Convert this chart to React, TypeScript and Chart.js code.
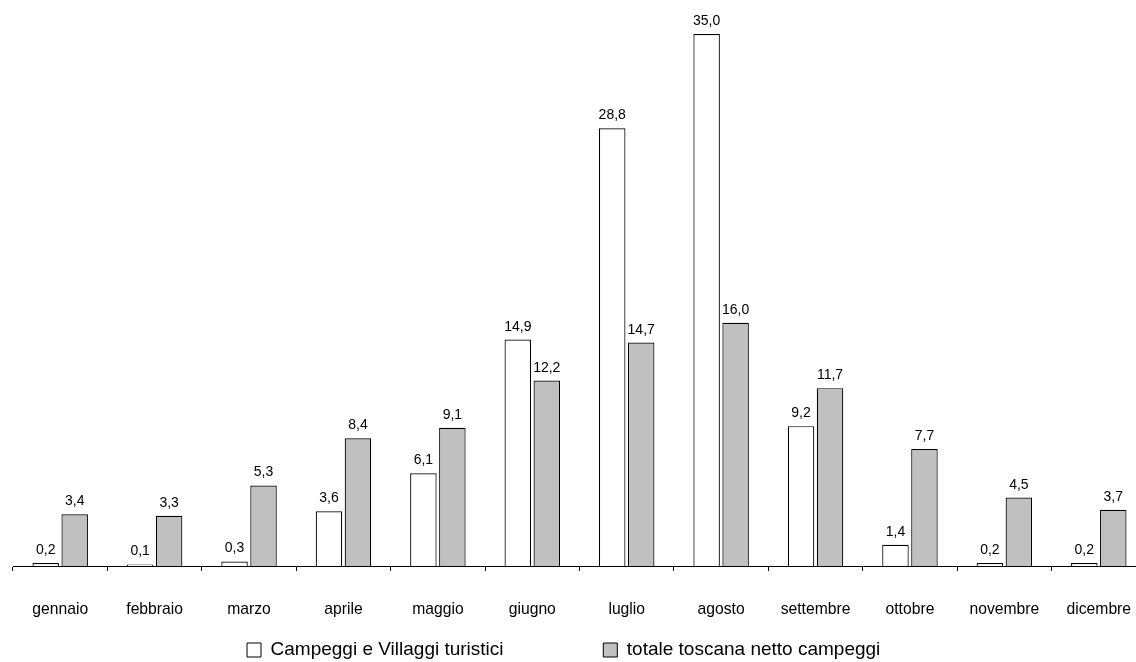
import React, { useEffect, useRef } from "react";
import { Chart, registerables } from "chart.js";

Chart.register(...registerables);

const months = [
  "gennaio", "febbraio", "marzo", "aprile", "maggio", "giugno",
  "luglio", "agosto", "settembre", "ottobre", "novembre", "dicembre",
];
const campeggi = [0.2, 0.1, 0.3, 3.6, 6.1, 14.9, 28.8, 35.0, 9.2, 1.4, 0.2, 0.2];
const toscana = [3.4, 3.3, 5.3, 8.4, 9.1, 12.2, 14.7, 16.0, 11.7, 7.7, 4.5, 3.7];
const seriesNames = ["Campeggi e Villaggi turistici", "totale toscana netto campeggi"];

const FONT = "'Liberation Sans', Arial, sans-serif";
const fmt = (v: number) => v.toFixed(1).replace(".", ",");

// Writes each bar's value just above its top
const valueLabels = {
  id: "valueLabels",
  afterDatasetsDraw(chart: any) {
    const ctx = chart.ctx;
    ctx.save();
    ctx.font = `14px ${FONT}`;
    ctx.fillStyle = "#000";
    ctx.textAlign = "center";
    ctx.textBaseline = "alphabetic";
    chart.data.datasets.forEach((ds: any, i: number) => {
      const meta = chart.getDatasetMeta(i);
      meta.data.forEach((bar: any, j: number) => {
        ctx.fillText(fmt(ds.data[j]), bar.x, bar.y - 9);
      });
    });
    ctx.restore();
  },
};

export default function App() {
  const ref = useRef<HTMLCanvasElement>(null);

  useEffect(() => {
    if (!ref.current) return;
    const chart = new Chart(ref.current, {
      type: "bar",
      data: {
        labels: months,
        datasets: [
          {
            label: seriesNames[0],
            data: campeggi,
            backgroundColor: "#ffffff",
            borderColor: "#000000",
            borderWidth: 1.2,
            categoryPercentage: 0.614,
            barPercentage: 0.914,
          },
          {
            label: seriesNames[1],
            data: toscana,
            backgroundColor: "#c0c0c0",
            borderColor: "#000000",
            borderWidth: 1.2,
            categoryPercentage: 0.614,
            barPercentage: 0.914,
          },
        ],
      },
      options: {
        responsive: false,
        animation: false,
        devicePixelRatio: 1,
        layout: { padding: { left: 13, right: 0, top: 3.6, bottom: -7.5 } },
        scales: {
          x: {
            grid: {
              display: true,
              drawOnChartArea: false,
              drawTicks: true,
              tickLength: 5,
              color: "#000",
              lineWidth: 1,
              offset: true,
            },
            border: { display: true, color: "#000", width: 1 },
            ticks: {
              color: "#000",
              font: { family: FONT, size: 15.7 },
              padding: 29.4,
              maxRotation: 0,
              autoSkip: false,
            },
            afterFit: (s: any) => {
              s.height = 64.5;
              s.paddingLeft = 0;
              s.paddingRight = 0;
            },
          },
          y: { display: false, min: 0, max: 37 },
        },
        plugins: {
          tooltip: { enabled: false },
          legend: {
            position: "bottom",
            labels: {
              color: "#000",
              font: { family: FONT, size: 19 },
              boxWidth: 14,
              boxHeight: 14,
              padding: 10,
              generateLabels: (c: any) =>
                c.data.datasets.map((ds: any, i: number) => ({
                  text: ds.label + (i === 0 ? " ".repeat(17) : " ".repeat(6)),
                  fillStyle: ds.backgroundColor,
                  strokeStyle: "#000",
                  lineWidth: 1,
                  hidden: false,
                  datasetIndex: i,
                })),
            },
          },
        },
      },
      plugins: [valueLabels],
    });
    return () => chart.destroy();
  }, []);

  return (
    <div
      style={{
        position: "fixed",
        left: 0,
        top: 0,
        width: 1136,
        height: 662,
        overflow: "hidden",
        background: "#fff",
      }}
    >
      <canvas ref={ref} width={1146} height={662} style={{ display: "block" }} />
    </div>
  );
}
